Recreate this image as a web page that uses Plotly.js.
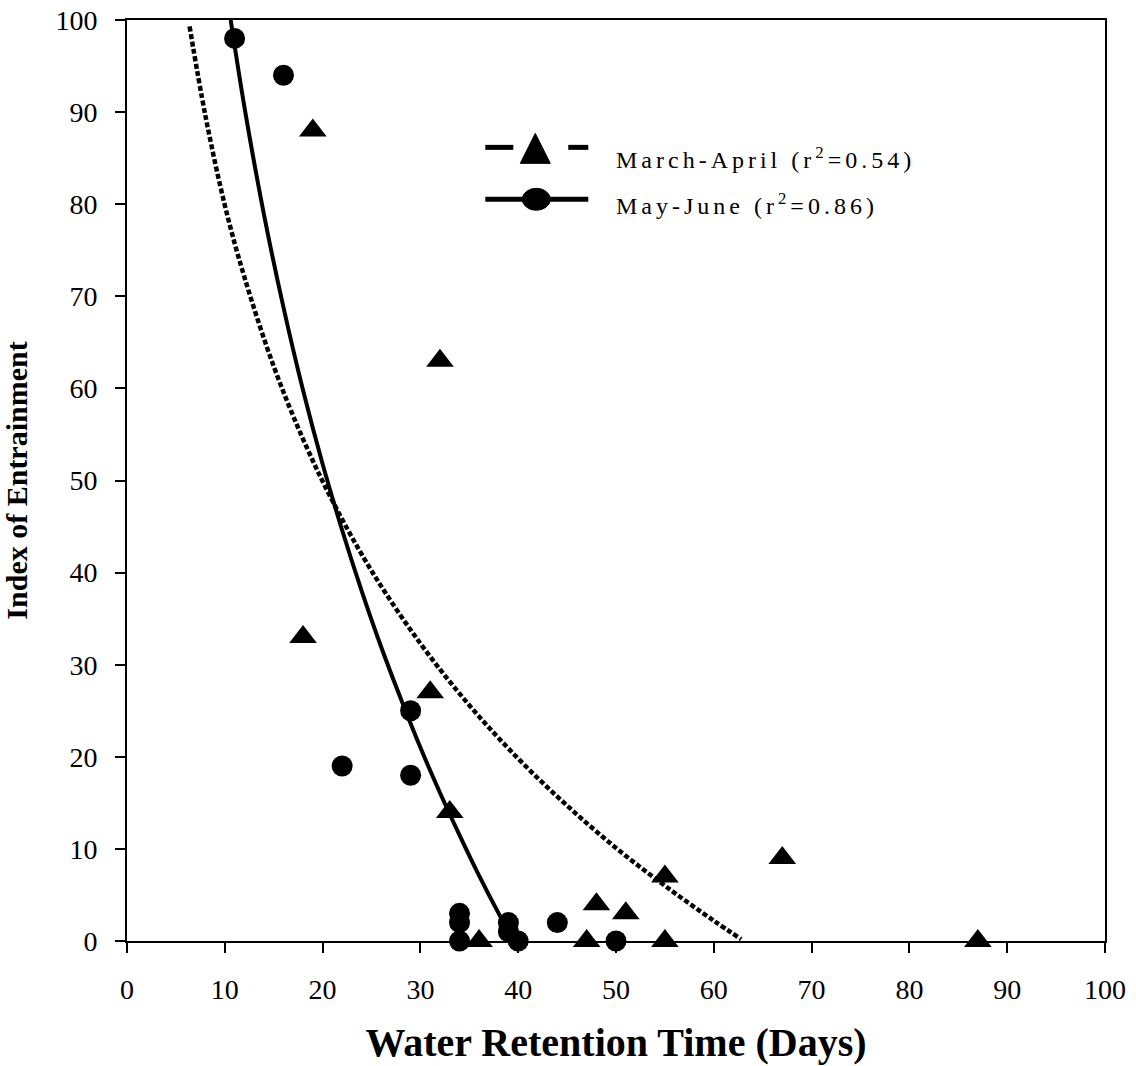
<!DOCTYPE html>
<html>
<head>
<meta charset="utf-8">
<script src="https://cdn.plot.ly/plotly-3.0.1.min.js"></script>
<style>
  html, body { margin: 0; padding: 0; background: #fff; }
  #chart { width: 1136px; height: 1066px; }
  g.annotation text { letter-spacing: 4px; }
</style>
</head>
<body>
<div id="chart"></div>
<script>
// Observed data: March-April (triangles)
const maX = [19, 18, 32, 31, 33, 36, 47, 48, 51, 55, 55, 67, 87];
const maY = [88, 33, 63, 27, 14, 0, 0, 4, 3, 7, 0, 9, 0];
// Observed data: May-June (circles)
const mjX = [11, 16, 22, 29, 29, 34, 34, 34, 39, 39, 40, 44, 50];
const mjY = [98, 94, 19, 25, 18, 3, 2, 0, 2, 1, 0, 2, 0];
// Fitted curves
const maFitX = [6.4, 8, 10, 12, 15, 18, 21, 25, 30, 35, 40, 45, 50, 55, 60, 62.8];
const maFitY = [99.3, 89.7, 79.9, 72.1, 62.4, 54.5, 47.8, 40.2, 32.3, 25.6, 19.8, 14.7, 10.1, 6.0, 2.2, 0.2];
const mjFitX = [10.6, 12, 14, 16, 18, 20, 22, 24, 26, 28, 30, 32, 34, 36, 38, 39.4];
const mjFitY = [100, 90.6, 78.9, 68.8, 59.8, 51.8, 44.6, 38.0, 31.9, 26.3, 21.0, 16.1, 11.5, 7.1, 3.0, 0.3];
// Tick values and labels
const tickVals = [0, 10, 20, 30, 40, 50, 60, 70, 80, 90, 100];
const tickText = tickVals.map(String);
const legendNames = ["March-April (r<sup>2</sup>=0.54)", "May-June (r<sup>2</sup>=0.86)"];

const serif = "Liberation Serif, Times New Roman, serif";

const traces = [
  { x: maFitX, y: maFitY, type: "scatter", mode: "lines", line: { color: "#000", width: 4.5, dash: "5px,2.5px", shape: "spline", smoothing: 1 }, hoverinfo: "skip", showlegend: false },
  { x: mjFitX, y: mjFitY, type: "scatter", mode: "lines", line: { color: "#000", width: 4, shape: "spline", smoothing: 1 }, hoverinfo: "skip", showlegend: false },
  { x: maX, y: maY, type: "scatter", mode: "markers", name: "March-April", marker: { symbol: "triangle-up", size: 24, color: "#000" }, showlegend: false, cliponaxis: false },
  { x: mjX, y: mjY, type: "scatter", mode: "markers", name: "May-June", marker: { symbol: "circle", size: 21, color: "#000" }, showlegend: false, cliponaxis: false }
];

// manual legend (paper coordinates)
const P = (px) => (px - 126.5) / 978.5;
const Q = (py) => (941.5 - py) / 922;
const shapes = [
  { type: "line", xref: "paper", yref: "paper", x0: P(485), x1: P(513), y0: Q(147), y1: Q(147), line: { color: "#000", width: 5 } },
  { type: "line", xref: "paper", yref: "paper", x0: P(568), x1: P(588), y0: Q(147), y1: Q(147), line: { color: "#000", width: 5 } },
  { type: "path", xref: "paper", yref: "paper",
    path: `M ${P(520)} ${Q(163)} L ${P(550)} ${Q(163)} L ${P(535)} ${Q(133)} Z`,
    fillcolor: "#000", line: { color: "#000", width: 1 } },
  { type: "line", xref: "paper", yref: "paper", x0: P(485), x1: P(588), y0: Q(199), y1: Q(199), line: { color: "#000", width: 5 } },
  { type: "circle", xref: "paper", yref: "paper", x0: P(522), x1: P(550), y0: Q(188), y1: Q(210), fillcolor: "#000", line: { color: "#000", width: 1 } }
];
const annotations = [
  { xref: "paper", yref: "paper", x: P(614), y: Q(158), xanchor: "left", yanchor: "middle", align: "left", text: legendNames[0], showarrow: false, font: { family: serif, size: 24, color: "#000" } },
  { xref: "paper", yref: "paper", x: P(614), y: Q(204), xanchor: "left", yanchor: "middle", align: "left", text: legendNames[1], showarrow: false, font: { family: serif, size: 24, color: "#000" } }
];

const layout = {
  width: 1136, height: 1066,
  margin: { l: 126.5, r: 31, t: 19.5, b: 124.5 },
  paper_bgcolor: "#fff", plot_bgcolor: "#fff",
  showlegend: false,
  font: { family: serif, color: "#000" },
  xaxis: {
    range: [0, 100], tickvals: tickVals, ticktext: tickText,
    ticks: "outside", ticklen: 10, tickwidth: 2, tickcolor: "#000",
    showline: true, linewidth: 2, linecolor: "#000", mirror: true,
    showgrid: false, zeroline: false,
    tickfont: { family: serif, size: 28, color: "#000" },
    ticklabelstandoff: 12,
    title: { text: "Water Retention Time (Days)", standoff: 24, font: { family: serif, size: 40, color: "#000", weight: "bold" } }
  },
  yaxis: {
    range: [0, 100], tickvals: tickVals, ticktext: tickText,
    ticks: "outside", ticklen: 10, tickwidth: 2, tickcolor: "#000",
    showline: true, linewidth: 2, linecolor: "#000", mirror: true,
    showgrid: false, zeroline: false,
    tickfont: { family: serif, size: 28, color: "#000" },
    ticklabelstandoff: 12,
    title: { text: "Index of Entrainment", standoff: 20, font: { family: serif, size: 30, color: "#000", weight: "bold" } }
  },
  shapes: shapes,
  annotations: annotations
};

Plotly.newPlot("chart", traces, layout, { displayModeBar: false, staticPlot: true });
</script>
</body>
</html>
